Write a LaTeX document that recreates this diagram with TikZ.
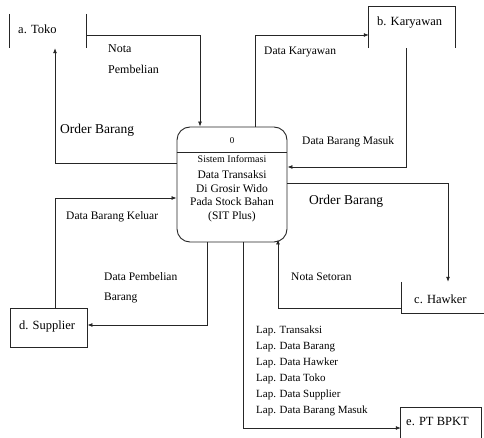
\documentclass[tikz,border=0pt]{standalone}
\usepackage{fontspec}
\setmainfont{Liberation Serif}
\usetikzlibrary{arrows.meta}
\tikzset{
  flow/.style={draw=black!85, line width=0.8pt, -{Latex[length=5pt,width=4pt]}},
  ent/.style={inner sep=0pt, font=\fontsize{12.5}{14}\selectfont},
  lbl/.style={inner sep=0pt, anchor=west, align=left, font=\fontsize{11.5}{13}\selectfont},
  big/.style={inner sep=0pt, anchor=west, font=\fontsize{13.5}{15}\selectfont},
  edge/.style={draw=black!85, line width=0.9pt}
}
\begin{document}
\begin{tikzpicture}[x=1pt,y=-1pt]
\useasboundingbox (0,0) rectangle (484,438);
\fill[white] (0,0) rectangle (484,438);

% entities
\node[ent, minimum width=76pt, minimum height=34pt] (toko) at (48,31) {};
\node[ent, anchor=west] (tokot) at (18,29) {a. Toko};
\draw[edge] (toko.north west) -- (toko.south west);
\draw[edge] (toko.north east) -- (toko.south east);

\node[ent, minimum width=86pt, minimum height=41pt] (kary) at (412,27.5) {};
\node[ent, anchor=west] (karyt) at (377,23) {b. Karyawan};
\draw[edge] (kary.south west) -- (kary.north west) -- (kary.north east) -- (kary.south east);

\node[ent, minimum width=82pt, minimum height=31pt] (hawk) at (443,297.5) {};
\node[ent, anchor=west] (hawkt) at (414,299) {c. Hawker};
\draw[edge] (hawk.north west) -- (hawk.south west) -- (hawk.south east);

\node[ent, draw=black!85, line width=0.9pt, minimum width=77pt, minimum height=39pt] (supp) at (48.5,327.5) {};
\node[ent, anchor=west] (suppt) at (19,326) {d. Supplier};

\node[ent, minimum width=80pt, minimum height=30pt] (ptb) at (441,423) {};
\node[ent, anchor=west] (ptbt) at (406,421) {e. PT BPKT};
\draw[edge] (ptb.south west) -- (ptb.north west) -- (ptb.north east) -- (ptb.south east);

% process
\node[draw=black!85, line width=0.9pt, rounded corners=13pt, minimum width=110pt, minimum height=115pt, inner sep=0pt] (proc) at (232,184.5) {};
\coordinate (div) at (0,152);
\draw[edge] (proc.west |- div) -- (proc.east |- div);
\node[inner sep=0pt, font=\fontsize{9}{10}\selectfont] (pnum) at (232,141) {0};
\node[inner sep=0pt, anchor=north, font=\fontsize{10}{11}\selectfont] (ptop) at (232,155) {Sistem Informasi};
\node[inner sep=0pt, anchor=north, align=center, font=\fontsize{11.5}{13.5}\selectfont] (ptxt) at (232,170.5)
  {Data Transaksi\\Di Grosir Wido\\Pada Stock Bahan\\(SIT Plus)};

% connectors
\coordinate (p1) at (200,35);
\draw[flow] (toko.east |- p1) -- (p1) -- (proc.north -| p1);
\coordinate (p2) at (55,163);
\draw[flow] (proc.west |- p2) -- (p2) -- (toko.south -| p2);
\coordinate (p3) at (255,35);
\draw[flow] (proc.north -| p3) -- (p3) -- (kary.west |- p3);
\coordinate (p4) at (406,167);
\draw[flow] (kary.south -| p4) -- (p4) -- (proc.east |- p4);
\coordinate (p5) at (448,183);
\draw[flow] (proc.east |- p5) -- (p5) -- (hawk.north -| p5);
\coordinate (p6) at (278,308);
\draw[flow] (hawk.west |- p6) -- (p6) -- ([yshift=3pt]proc.south -| p6);
\coordinate (p7) at (243,428);
\draw[flow] (proc.south -| p7) -- (p7) -- (ptb.west |- p7);
\coordinate (p8) at (207,325);
\draw[flow] (proc.south -| p8) -- (p8) -- (supp.east |- p8);
\coordinate (p9) at (55,198);
\draw[flow] (supp.north -| p9) -- (p9) -- (proc.west |- p9);

% labels
\node[lbl, font=\fontsize{12}{21}\selectfont] (l1) at (108,59) {Nota\\Pembelian};
\node[big] (l2) at (60,130) {Order Barang};
\node[lbl] (l3) at (264,52) {Data Karyawan};
\node[lbl] (l4) at (302,142) {Data Barang Masuk};
\node[big] (l5) at (309,201) {Order Barang};
\node[lbl] (l6) at (291,277) {Nota Setoran};
\node[lbl] (l9) at (66,217) {Data Barang Keluar};
\node[lbl, font=\fontsize{11.5}{20}\selectfont] (l8) at (104,288) {Data Pembelian\\Barang};
\node[lbl, anchor=north west, font=\fontsize{11}{16}\selectfont] (l7) at (256,326)
  {Lap. Transaksi\\Lap. Data Barang\\Lap. Data Hawker\\Lap. Data Toko\\Lap. Data Supplier\\Lap. Data Barang Masuk};
\end{tikzpicture}
\end{document}
